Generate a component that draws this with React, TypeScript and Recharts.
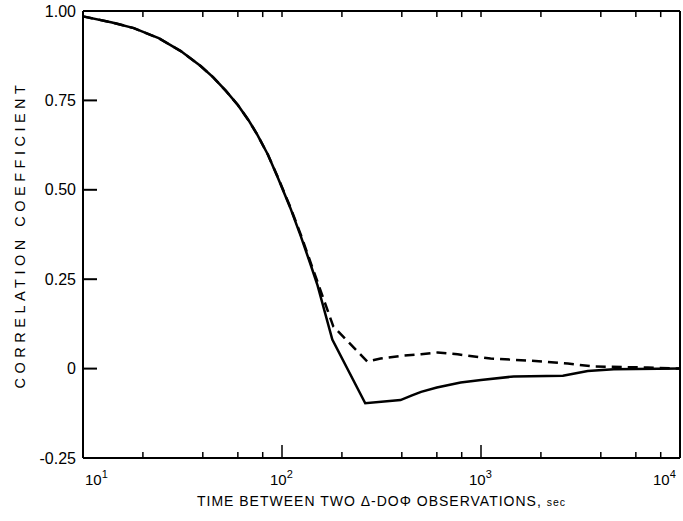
import React from 'react'
import { LineChart, Line, XAxis, YAxis, Label, ReferenceLine } from 'recharts'

// lag (sec) and correlation
const solidLag = [10, 14, 18, 24, 31, 39, 45, 52, 60, 68, 75, 85, 95, 110, 124, 140, 151, 179, 262, 394, 450, 500, 600, 790, 1000, 1460, 2580, 3000, 3440, 4650, 10000]
const solidCorr = [0.985, 0.968, 0.952, 0.924, 0.888, 0.846, 0.815, 0.778, 0.737, 0.694, 0.655, 0.598, 0.536, 0.45, 0.372, 0.287, 0.232, 0.081, -0.097, -0.088, -0.075, -0.065, -0.053, -0.039, -0.032, -0.022, -0.02, -0.013, -0.007, -0.002, 0]

const dashedLag = [10, 14, 18, 24, 31, 39, 45, 52, 60, 68, 75, 85, 95, 110, 124, 140, 160, 181, 268, 313, 400, 500, 605, 763, 1117, 1780, 2730, 3690, 6890, 10000]
const dashedCorr = [0.985, 0.968, 0.952, 0.924, 0.888, 0.846, 0.815, 0.778, 0.737, 0.694, 0.655, 0.598, 0.537, 0.452, 0.376, 0.293, 0.202, 0.118, 0.02, 0.028, 0.036, 0.04, 0.045, 0.04, 0.028, 0.022, 0.014, 0.006, 0.003, 0]

const decadeTicks = [10, 100, 1000, 10000]
const minorTicks = [20, 40, 60, 80, 200, 400, 600, 800, 2000, 4000, 6000, 8000]
const topTicks = [20, 40, 60, 80, 100, 200, 400, 600, 800, 1000, 2000, 4000, 6000, 8000]
const xTicks = [...decadeTicks, ...minorTicks].sort((a, b) => a - b)
const yTicks = [-0.25, 0, 0.25, 0.5, 0.75, 1]
const yLabels = ['-0.25', '0', '0.25', '0.50', '0.75', '1.00']
const Y_MAX = 1
const TOP_TICK_LEN = 0.017 // roughly 6px in correlation units

const solidData = solidLag.map((lag, i) => ({ lag, corr: solidCorr[i] }))
const dashedData = dashedLag.map((lag, i) => ({ lag, corr: dashedCorr[i] }))

const FONT = '"Liberation Sans", Arial, Helvetica, sans-serif'

const BottomTick = (props: any) => {
  const { x, y, payload } = props
  const v = payload.value
  const exp = Math.round(Math.log10(v))
  const isDecade = decadeTicks.includes(v)
  const len = v === 100 || v === 1000 ? 13 : v === 10 || v === 10000 ? 0 : 6
  const dx = exp === 1 ? 2 : exp === 4 ? -27 : -12
  return (
    <g>
      {len > 0 && <line x1={x} x2={x} y1={y} y2={y - len} stroke="#000" strokeWidth={1.5} />}
      {isDecade && (
        <text x={x + dx} y={y + 27} fontSize={15} fontFamily={FONT} fill="#000">
          10<tspan dy={-7} fontSize={11}>{exp}</tspan>
        </text>
      )}
    </g>
  )
}

const LeftTick = (props: any) => {
  const { x, y, payload } = props
  const v = Number(payload.value)
  const i = yTicks.indexOf(v)
  const len = v === -0.25 || v === 1 ? 0 : 14
  return (
    <g>
      <path d={`M${x},${y}h${len}`} stroke="#000" strokeWidth={2} fill="none" />
      <text x={x - 7} y={y} dy={5.5} textAnchor="end" fontSize={16} fontFamily={FONT} fill="#000">
        {yLabels[i]}
      </text>
    </g>
  )
}

const yTitle = (props: any) => {
  const { viewBox } = props
  const cy = viewBox.y + viewBox.height / 2
  return (
    <text x={20} y={cy} transform={`rotate(-90, 20, ${cy})`} textAnchor="middle" dominantBaseline="central"
      fontSize={14.5} letterSpacing={4.5} fontFamily={FONT} fill="#000">
      CORRELATION COEFFICIENT
    </text>
  )
}

const xTitle = (props: any) => {
  const { viewBox } = props
  const cx = viewBox.x + viewBox.width / 2
  return (
    <text x={cx} y={viewBox.y + 48} textAnchor="middle" fontSize={14} letterSpacing={1} fontFamily={FONT} fill="#000">
      TIME BETWEEN TWO Δ-DOΦ OBSERVATIONS, <tspan fontSize={10.5}>sec</tspan>
    </text>
  )
}

export default function App() {
  const axisLine = { stroke: '#000', strokeWidth: 2 }
  return (
    <div style={{ position: 'absolute', left: 0, top: 0, background: '#fff' }}>
      <LineChart width={683} height={521} margin={{ top: 11, right: 3, left: 0, bottom: 0 }}>
        <XAxis dataKey="lag" type="number" scale="log" domain={[10, 10000]} ticks={xTicks} interval={0}
          height={63} axisLine={axisLine} tickLine={false} tickSize={0} tickMargin={0} tick={<BottomTick />}>
          <Label content={xTitle} />
        </XAxis>
        <YAxis type="number" domain={[-0.25, 1]} ticks={yTicks} interval={0} width={83} axisLine={axisLine}
          tickLine={false} tickSize={0} tickMargin={0} tick={<LeftTick />}>
          <Label content={yTitle} />
        </YAxis>
        <ReferenceLine y={Y_MAX} stroke="#000" strokeWidth={2} />
        <ReferenceLine x={10000} stroke="#000" strokeWidth={2} />
        {topTicks.map((t) => (
          <ReferenceLine key={t} segment={[{ x: t, y: Y_MAX }, { x: t, y: Y_MAX - TOP_TICK_LEN }]}
            stroke="#000" strokeWidth={1.5} ifOverflow="visible" />
        ))}
        <Line data={dashedData} dataKey="corr" type="linear" stroke="#000" strokeWidth={2.5}
          strokeDasharray="10 6" dot={false} isAnimationActive={false} />
        <Line data={solidData} dataKey="corr" type="linear" stroke="#000" strokeWidth={2.5}
          dot={false} isAnimationActive={false} />
      </LineChart>
    </div>
  )
}
